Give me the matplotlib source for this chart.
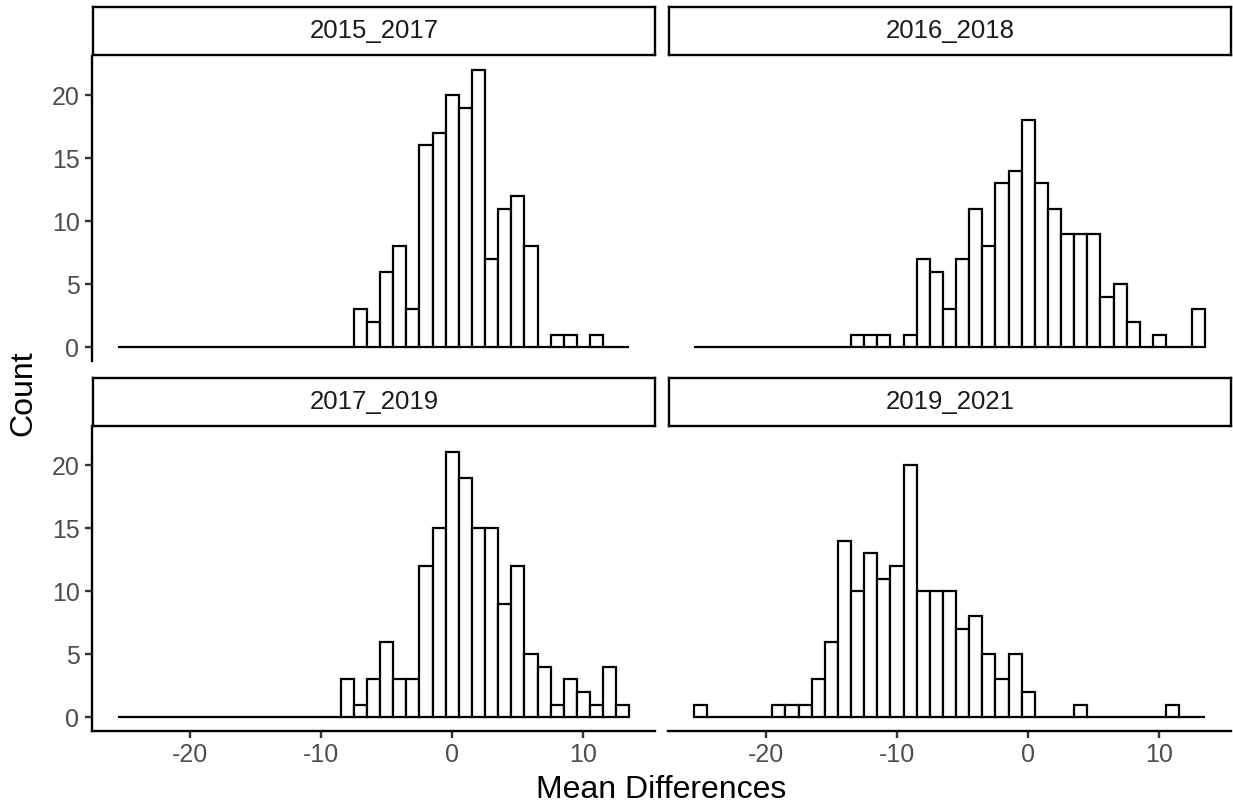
import numpy as np
import matplotlib
matplotlib.use("Agg")
from matplotlib import pyplot as plt

plt.rcParams["font.family"] = ["Liberation Sans", "DejaVu Sans"]
plt.rcParams["axes.unicode_minus"] = False

# bin centres (binwidth 1, edges at half integers)
centers = np.arange(-25, 14)

counts_2015_2017 = [0] * 18 + [3, 2, 6, 8, 3, 16, 17, 20, 19, 22, 7, 11, 12, 8, 0,
                               1, 1, 0, 1, 0, 0]
counts_2016_2018 = [0] * 12 + [1, 1, 1, 0, 1, 7, 6, 3, 7, 11, 8, 13, 14, 18, 13,
                               11, 9, 9, 9, 4, 5, 2, 0, 1, 0, 0, 3]
counts_2017_2019 = [0] * 17 + [3, 1, 3, 6, 3, 3, 12, 15, 21, 19, 15, 15, 9, 12, 5,
                               4, 1, 3, 2, 1, 4, 1]
counts_2019_2021 = [1, 0, 0, 0, 0, 0, 1, 1, 1, 3, 6, 14, 10, 13, 11, 12, 20, 10, 10,
                    10, 7, 8, 5, 3, 5, 2, 0, 0, 0, 1, 0, 0, 0, 0, 0, 0, 1, 0, 0]

facets = ["2015_2017", "2016_2018", "2017_2019", "2019_2021"]
facet_counts = [counts_2015_2017, counts_2016_2018, counts_2017_2019, counts_2019_2021]

xticks = [-20, -10, 0, 10]
yticks = [0, 5, 10, 15, 20]

W, H = 1233, 809
fig = plt.figure(figsize=(W / 100, H / 100), dpi=100)


def px_axes(x0, y0, x1, y1):
    return fig.add_axes([x0 / W, 1 - y1 / H, (x1 - x0) / W, (y1 - y0) / H])


cols = [(92, 655), (668, 1231)]
rows = [(56, 361), (426, 731)]
strips = [(7, 55), (378, 426)]

LW = 1.7
tick_col = "#4D4D4D"
lbl_size = 18

for i, (name, cnt) in enumerate(zip(facets, facet_counts)):
    r, c = divmod(i, 2)
    x0, x1 = cols[c]
    y0, y1 = rows[r]
    ax = px_axes(x0, y0, x1, y1)
    ax.bar(centers, cnt, width=1, color="white", edgecolor="black", linewidth=1.6)
    ax.set_xlim(-27.45, 15.45)
    ax.set_ylim(-1.1, 23.1)
    for s in ["top", "right"]:
        ax.spines[s].set_visible(False)
    ax.spines["left"].set_linewidth(LW)
    ax.spines["bottom"].set_linewidth(LW)
    ax.tick_params(width=LW, length=5, color="#333333", labelcolor=tick_col,
                   labelsize=lbl_size, pad=4)
    ax.set_xticks(xticks)
    ax.set_yticks(yticks)
    if c == 1:
        ax.spines["left"].set_visible(False)
        ax.tick_params(axis="y", left=False, labelleft=False)
    if r == 0:
        ax.spines["bottom"].set_visible(False)
        ax.tick_params(axis="x", bottom=False, labelbottom=False)

    sy0, sy1 = strips[r]
    sax = px_axes(x0 + 1, sy0, x1, sy1)
    sax.set_xticks([])
    sax.set_yticks([])
    for s in sax.spines.values():
        s.set_linewidth(LW)
    sax.text(0.5, 0.5, name, transform=sax.transAxes, ha="center", va="center",
             fontsize=18.5, color="#1A1A1A")

fig.text(661.5 / W, 1 - 790 / H, "Mean Differences", ha="center", va="center",
         fontsize=23, color="black")
fig.text(23 / W, 1 - 393.5 / H, "Count", ha="center", va="center",
         rotation=90, fontsize=23, color="black")

fig.savefig("out.png", dpi=100)
